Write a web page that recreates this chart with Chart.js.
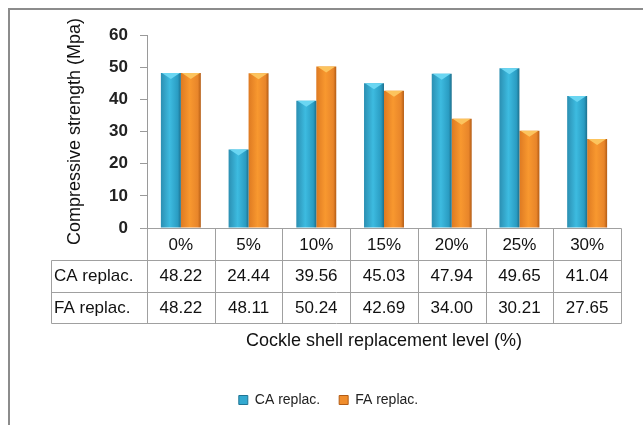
<!DOCTYPE html>
<html>
<head>
<meta charset="utf-8">
<script src="https://cdn.jsdelivr.net/npm/chart.js@4.4.1/dist/chart.umd.min.js"></script>
<style>
  html, body { margin: 0; padding: 0; background: #fff; }
  #wrap { position: relative; width: 643px; height: 425px; }
</style>
</head>
<body>
<div id="wrap"><canvas id="c" width="643" height="425"></canvas></div>
<script>
// replacement levels (categories)
const levels = ['0%', '5%', '10%', '15%', '20%', '25%', '30%'];
// compressive strength, Mpa
const caReplac = [48.22, 24.44, 39.56, 45.03, 47.94, 49.65, 41.04];
const faReplac = [48.22, 48.11, 50.24, 42.69, 34.00, 30.21, 27.65];
const seriesNames = ['CA replac.', 'FA replac.'];
const yMin = 0, yMax = 60, yStep = 10;

const FONT = "'Liberation Sans', Arial, sans-serif";
const CAPS = ['#6ad6f2', '#fcc45e'];   // light bevel on bar tops

// horizontal shading like the old Excel bevel bars
function shade(stops, solid) {
  return (c) => {
    const el = c.element;
    if (!el || !isFinite(el.x) || !el.width) return solid;
    const l = el.x - el.width / 2, r = el.x + el.width / 2;
    const g = c.chart.ctx.createLinearGradient(l, 0, r, 0);
    g.addColorStop(0, stops[0]);
    g.addColorStop(0.45, stops[1]);
    g.addColorStop(0.85, stops[2]);
    g.addColorStop(1, stops[3]);
    return g;
  };
}

const framePlugin = {
  id: 'frame',
  beforeDraw(chart) {
    const ctx = chart.ctx;
    ctx.save();
    ctx.fillStyle = '#fff';
    ctx.fillRect(0, 0, chart.width, chart.height);
    ctx.strokeStyle = '#8c8c8c';
    ctx.lineWidth = 2;
    ctx.strokeRect(9, 9, chart.width + 20, chart.height + 20);
    ctx.restore();
  }
};

// small chevron highlight on each bar top, taken from the bar elements
const bevelPlugin = {
  id: 'bevel',
  afterDatasetsDraw(chart) {
    const ctx = chart.ctx;
    ctx.save();
    chart.data.datasets.forEach((ds, di) => {
      chart.getDatasetMeta(di).data.forEach((bar) => {
        const l = bar.x - bar.width / 2, r = bar.x + bar.width / 2;
        const h = Math.min(6, bar.width * 0.3);
        ctx.fillStyle = CAPS[di];
        ctx.beginPath();
        ctx.moveTo(l + 1, bar.y);
        ctx.lineTo(r - 1, bar.y);
        ctx.lineTo(bar.x, bar.y + h);
        ctx.closePath();
        ctx.fill();
      });
    });
    ctx.restore();
  }
};

// data table under the plot, columns taken from the x scale
const tablePlugin = {
  id: 'dataTable',
  afterDraw(chart) {
    const { ctx, chartArea } = chart;
    const x = chart.scales.x;
    const rowH = 31.5, labelLeft = 51;
    const top = Math.round(chartArea.bottom) + 0.5;
    const half = (x.getPixelForValue(1) - x.getPixelForValue(0)) / 2;
    const edges = levels.map((_, i) => Math.round(x.getPixelForValue(i) - half) + 0.5);
    edges.push(Math.round(x.getPixelForValue(levels.length - 1) + half) + 0.5);
    const right = edges[edges.length - 1];
    const rows = [caReplac, faReplac];
    const yAt = (k) => Math.round(top + rowH * k) + 0.5;

    ctx.save();
    ctx.strokeStyle = '#a0a0a0';
    ctx.lineWidth = 1;
    ctx.beginPath();
    ctx.moveTo(edges[0] - 6, top); ctx.lineTo(right, top);
    for (let r = 1; r <= rows.length + 1; r++) {
      ctx.moveTo(labelLeft + 0.5, yAt(r)); ctx.lineTo(right, yAt(r));
    }
    edges.forEach((e) => { ctx.moveTo(e, top); ctx.lineTo(e, yAt(rows.length + 1)); });
    ctx.moveTo(labelLeft + 0.5, yAt(1)); ctx.lineTo(labelLeft + 0.5, yAt(rows.length + 1));
    ctx.stroke();

    ctx.fillStyle = '#111';
    ctx.font = '17px ' + FONT;
    ctx.textBaseline = 'middle';
    ctx.textAlign = 'center';
    levels.forEach((lv, i) => ctx.fillText(lv, x.getPixelForValue(i), top + rowH / 2 + 1));
    rows.forEach((vals, r) => {
      const cy = top + rowH * (r + 1) + rowH / 2 + 1;
      ctx.textAlign = 'left';
      ctx.fillText(seriesNames[r], labelLeft + 3, cy);
      ctx.textAlign = 'center';
      vals.forEach((v, i) => ctx.fillText(v.toFixed(2), x.getPixelForValue(i), cy));
    });
    ctx.restore();
  }
};

const chart = new Chart(document.getElementById('c'), {
  type: 'bar',
  data: {
    labels: levels,
    datasets: [
      {
        label: seriesNames[0], data: caReplac,
        backgroundColor: shade(['#2b8fb2', '#3dbbe0', '#2a9cc2', '#1d6f8c'], '#33a9d0'),
        borderWidth: 0
      },
      {
        label: seriesNames[1], data: faReplac,
        backgroundColor: shade(['#de7a22', '#f8982f', '#e8852a', '#b35c15'], '#f08d2c'),
        borderWidth: 0
      }
    ]
  },
  options: {
    responsive: false,
    animation: false,
    categoryPercentage: 0.59,
    barPercentage: 1,
    layout: { padding: { left: 36, right: 22, top: 35, bottom: 8 } },
    plugins: {
      legend: {
        position: 'bottom',
        labels: {
          boxWidth: 9, boxHeight: 9, padding: 19, color: '#222',
          font: { family: FONT, size: 14 },
          generateLabels(chart) {
            return chart.data.datasets.map((ds, i) => ({
              text: ds.label, fillStyle: i === 0 ? '#33a9d0' : '#f08d2c',
              strokeStyle: i === 0 ? '#1f7595' : '#b35c15', lineWidth: 1,
              hidden: false, datasetIndex: i, fontColor: '#222'
            }));
          }
        }
      },
      tooltip: { enabled: false }
    },
    scales: {
      x: {
        ticks: { display: false },
        grid: { display: false },
        border: { display: false },
        title: {
          display: true, text: 'Cockle shell replacement level (%)',
          color: '#111', font: { family: FONT, size: 18 },
          padding: { top: 0, bottom: 22 }
        },
        afterFit(s) { s.height = 146; }
      },
      y: {
        min: yMin, max: yMax,
        ticks: { stepSize: yStep, padding: 12, color: '#222', font: { family: FONT, size: 17, weight: 'bold' } },
        grid: { drawOnChartArea: false, tickLength: 7, color: '#9a9a9a' },
        border: { color: '#9a9a9a' },
        title: {
          display: true, text: 'Compressive strength (Mpa)',
          color: '#111', font: { family: FONT, size: 18 },
          padding: { top: 28, bottom: 0 }
        },
        afterFit(s) { s.width = 111; }
      }
    }
  },
  plugins: [framePlugin, bevelPlugin, tablePlugin]
});
// second pass so the shaded fills know each bar's position
chart.update('none');
</script>
</body>
</html>
